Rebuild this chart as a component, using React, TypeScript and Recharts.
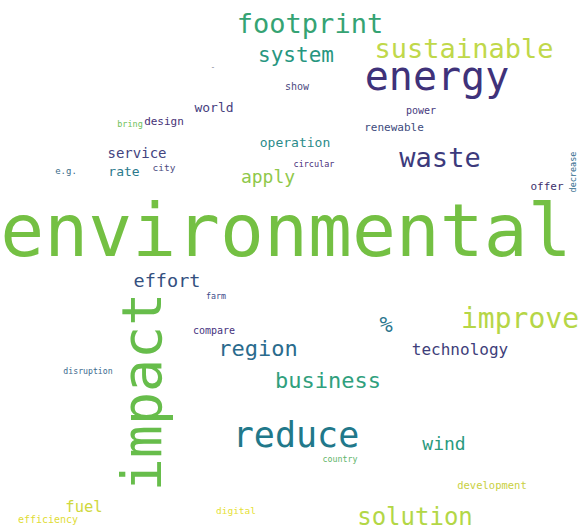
import { ScatterChart, Scatter, XAxis, YAxis } from "recharts";

// word cloud laid out in a 583 x 530 layout space (x = centre, y = baseline)
const words = [
  "environmental", "impact", "energy", "footprint", "sustainable", "system",
  "waste", "reduce", "improve", "solution", "effort", "region", "business",
  "%", "technology", "wind", "fuel", "efficiency", "digital", "development",
  "country", "disruption", "compare", "farm", "apply", "operation", "circular",
  "service", "rate", "city", "e.g.", "world", "design", "bring", "show",
  "power", "renewable", "offer", "decrease", "-",
];
const wordX = [
  286, 161, 437, 310, 464, 296,
  440, 296, 520, 415, 167, 258, 328,
  386, 460, 444, 84, 48, 236, 492,
  340, 88, 214, 216, 268, 295, 314,
  137, 124, 164, 66, 214, 164, 130, 297,
  421, 394, 547, 576, 213,
];
const wordY = [
  256, 392, 90, 33, 58, 62,
  167, 447, 328, 525, 287, 356, 388,
  332, 355, 450, 512, 523, 514, 489,
  462, 374, 334, 299, 183, 147, 167,
  158, 176, 171, 174, 112, 125, 127, 90,
  114, 131, 190, 172, 70,
];
const weight = [
  73, 55, 40, 27, 27, 21,
  27, 35, 28, 24, 18.5, 22, 22,
  22, 16, 18, 15.5, 10, 9.5, 10.5,
  8.3, 8.2, 10, 8.3, 18, 13, 8.5,
  14, 13, 9.5, 9, 13, 11, 8.5, 10,
  10, 11, 11, 8.5, 8,
];
const wordColors = [
  "#74c043", "#67bd4b", "#3f327a", "#35a373", "#c0d84a", "#27967f",
  "#3c3a7c", "#21788a", "#b6d646", "#b3d746", "#34507f", "#2a6b8d", "#30a07d",
  "#2a768e", "#3e3e7a", "#2a9a7e", "#cfd83e", "#e0dc34", "#e6df36", "#c9d042",
  "#62b56a", "#3d6a8e", "#46327e", "#3e4a89", "#8fc84a", "#2b8b8a", "#4a2f7a",
  "#43447f", "#2c7a8c", "#4d4c80", "#3c6e8a", "#46407e", "#473276", "#71c15a", "#4c4a80",
  "#473a7e", "#404b7d", "#3c2f6c", "#2f6a8c", "#8c8c9c",
];
const vertical = ["impact", "decrease"];

const data = words.map((w, i) => ({
  word: w,
  x: wordX[i],
  y: wordY[i],
  size: weight[i],
  color: wordColors[i],
  rotate: vertical.includes(w),
}));

const WordShape = (props: any) => {
  const { cx, cy, payload } = props;
  return (
    <text
      x={cx}
      y={cy}
      textAnchor="middle"
      fontFamily="'DejaVu Sans Mono', monospace"
      fontSize={payload.size}
      fill={payload.color}
      transform={payload.rotate ? `rotate(-90 ${cx} ${cy})` : undefined}
    >
      {payload.word}
    </text>
  );
};

export default function App() {
  return (
    <div style={{ position: "absolute", left: 0, top: 0, background: "#fff" }}>
      <ScatterChart width={583} height={530} margin={{ top: 0, right: 0, bottom: 0, left: 0 }}>
        <XAxis type="number" dataKey="x" domain={[0, 583]} hide />
        <YAxis type="number" dataKey="y" domain={[0, 530]} reversed hide />
        <Scatter data={data} shape={WordShape} isAnimationActive={false} />
      </ScatterChart>
    </div>
  );
}
